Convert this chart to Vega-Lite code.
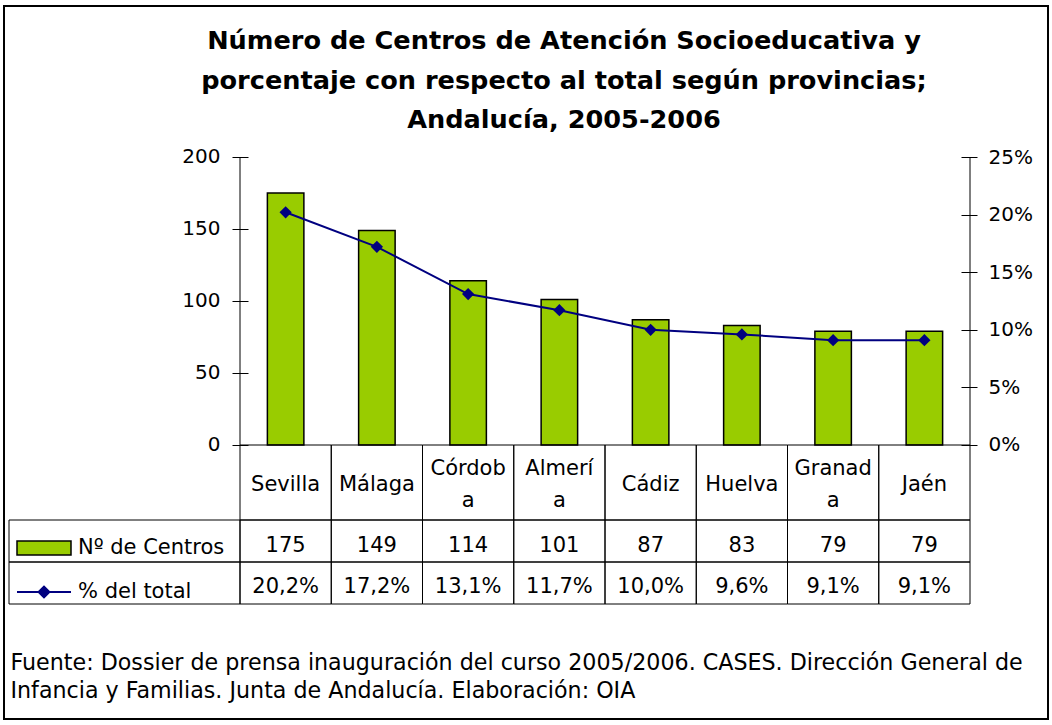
{
  "$schema": "https://vega.github.io/schema/vega-lite/v6.json",
  "width": 1044,
  "height": 713,
  "autosize": {"type": "none"},
  "padding": {"left": 4, "top": 6, "right": 4, "bottom": 6},
  "background": "white",
  "config": {
    "font": "DejaVu Sans",
    "view": {"stroke": "black", "strokeWidth": 2},
    "locale": {"number": {"decimal": ",", "thousands": ".", "grouping": [3], "currency": ["", " €"]}},
    "axis": {"labelColor": "black", "tickColor": "black", "domainColor": "black", "labelFont": "DejaVu Sans"}
  },
  "title": {
    "text": ["Número de Centros de Atención Socioeducativa  y", "porcentaje con respecto al total según provincias;", "Andalucía, 2005-2006"],
    "font": "DejaVu Sans",
    "fontSize": 25.6,
    "fontWeight": "bold",
    "lineHeight": 39.5,
    "color": "black",
    "anchor": "middle",
    "offset": -128,
    "dx": 38
  },
  "data": {
    "values": [
      {"provincia": "Sevilla", "rotulo": "Sevilla", "centros": 175, "porcentaje": 0.202},
      {"provincia": "Málaga", "rotulo": "Málaga", "centros": 149, "porcentaje": 0.172},
      {"provincia": "Córdoba", "rotulo": "Córdob\na", "centros": 114, "porcentaje": 0.131},
      {"provincia": "Almería", "rotulo": "Almerí\na", "centros": 101, "porcentaje": 0.117},
      {"provincia": "Cádiz", "rotulo": "Cádiz", "centros": 87, "porcentaje": 0.100},
      {"provincia": "Huelva", "rotulo": "Huelva", "centros": 83, "porcentaje": 0.096},
      {"provincia": "Granada", "rotulo": "Granad\na", "centros": 79, "porcentaje": 0.091},
      {"provincia": "Jaén", "rotulo": "Jaén", "centros": 79, "porcentaje": 0.091}
    ]
  },
  "layer": [
    {
      "layer": [
        {
          "layer": [
            {
              "mark": {"type": "bar", "stroke": "black", "strokeWidth": 1.5, "width": {"band": 0.4}},
              "encoding": {
                "x": {"field": "provincia", "type": "nominal", "axis": null,
                  "scale": {"type": "band", "domain": ["Sevilla", "Málaga", "Córdoba", "Almería", "Cádiz", "Huelva", "Granada", "Jaén"], "paddingInner": 0, "paddingOuter": 0, "range": [236, 966]}},
                "y": {"field": "centros", "type": "quantitative",
                  "scale": {"domain": [-190.28, 304.86], "nice": false, "zero": false},
                  "axis": {"orient": "left", "values": [0, 50, 100, 150, 200], "offset": -244, "tickSize": 16, "domain": false, "grid": false, "labelPadding": 12, "labelFontSize": 20, "title": null}},
                "fill": {"datum": "Nº de Centros", "type": "nominal", "scale": {"range": ["#99CC00"]},
                  "legend": {"orient": "none", "legendX": 12, "legendY": 514, "title": null, "padding": 0,
                    "symbolType": "M-1,-0.26H1V0.26H-1Z", "symbolSize": 2916, "symbolStrokeColor": "black", "symbolStrokeWidth": 1.5,
                    "labelFontSize": 21, "labelFont": "DejaVu Sans", "labelColor": "black", "labelOffset": 6}}
              }
            },
            {
              "data": {"values": [{}]},
              "mark": {"type": "rule", "color": "black", "strokeWidth": 1},
              "encoding": {
                "x": {"datum": "Sevilla", "type": "nominal", "bandPosition": 0, "axis": null},
                "y": {"datum": 0, "type": "quantitative"},
                "y2": {"datum": 200}
              }
            },
            {
              "data": {"values": [{}]},
              "mark": {"type": "rule", "color": "black", "strokeWidth": 1},
              "encoding": {
                "x": {"datum": "Jaén", "type": "nominal", "bandPosition": 1, "axis": null},
                "y": {"datum": 0, "type": "quantitative"},
                "y2": {"datum": 200}
              }
            }
          ]
        },
        {
          "layer": [
            {
              "mark": {"type": "line", "strokeWidth": 2},
              "encoding": {
                "x": {"field": "provincia", "type": "nominal", "axis": null},
                "y": {"field": "porcentaje", "type": "quantitative",
                  "scale": {"domain": [-0.23785, 0.38108], "nice": false, "zero": false},
                  "axis": {"orient": "right", "values": [0, 0.05, 0.1, 0.15, 0.2, 0.25], "format": ".0%", "offset": -87, "tickSize": 16, "domain": false, "grid": false, "labelPadding": 11, "labelFontSize": 20, "title": null}},
                "stroke": {"datum": "% del total", "type": "nominal", "scale": {"range": ["#000080"]},
                  "legend": {"orient": "none", "legendX": 12, "legendY": 558, "title": null, "padding": 0,
                    "symbolType": "M-1,0H1M-0.2,0L0,-0.2L0.2,0L0,0.2Z", "symbolSize": 2916, "symbolStrokeWidth": 2, "symbolFillColor": "#000080",
                    "labelFontSize": 21, "labelFont": "DejaVu Sans", "labelColor": "black", "labelOffset": 6,
                    "encode": {"symbols": {"update": {"fill": {"value": "#000080"}, "stroke": {"value": "#000080"}}}}}}
              }
            },
            {
              "mark": {"type": "point", "shape": "diamond", "filled": true, "size": 150, "color": "#000080", "opacity": 1},
              "encoding": {
                "x": {"field": "provincia", "type": "nominal", "axis": null},
                "y": {"field": "porcentaje", "type": "quantitative"}
              }
            }
          ]
        },
        {
          "layer": [
            {
              "mark": {"type": "rect", "filled": false, "color": "black", "strokeWidth": 1},
              "encoding": {
                "x": {"field": "provincia", "type": "nominal", "axis": null},
                "y": {"datum": "Provincia", "type": "nominal", "axis": null,
                  "scale": {"type": "band", "domain": ["Provincia"], "paddingInner": 0, "paddingOuter": 0, "range": [439, 514]}}
              }
            },
            {
              "transform": [{"filter": "indexof(datum.rotulo, '\\n') < 0"}],
              "mark": {"type": "text", "fontSize": 21, "color": "black", "baseline": "middle", "dy": 2},
              "encoding": {
                "x": {"field": "provincia", "type": "nominal", "axis": null},
                "y": {"datum": "Provincia", "type": "nominal", "axis": null},
                "text": {"field": "rotulo"}
              }
            },
            {
              "transform": [{"filter": "indexof(datum.rotulo, '\\n') >= 0"}],
              "mark": {"type": "text", "fontSize": 21, "color": "black", "lineBreak": "\n", "lineHeight": 32, "baseline": "middle", "dy": -14},
              "encoding": {
                "x": {"field": "provincia", "type": "nominal", "axis": null},
                "y": {"datum": "Provincia", "type": "nominal", "axis": null},
                "text": {"field": "rotulo"}
              }
            }
          ]
        },
        {
          "layer": [
            {
              "mark": {"type": "rect", "filled": false, "color": "black", "strokeWidth": 1},
              "encoding": {
                "x": {"field": "provincia", "type": "nominal", "axis": null},
                "y": {"datum": "Nº de Centros", "type": "nominal", "axis": null,
                  "scale": {"type": "band", "domain": ["Nº de Centros", "% del total"], "paddingInner": 0, "paddingOuter": 0, "range": [514, 598]}}
              }
            },
            {
              "mark": {"type": "rect", "filled": false, "color": "black", "strokeWidth": 1},
              "encoding": {
                "x": {"field": "provincia", "type": "nominal", "axis": null},
                "y": {"datum": "% del total", "type": "nominal", "axis": null}
              }
            },
            {
              "mark": {"type": "text", "fontSize": 21, "color": "black", "baseline": "middle", "dy": 5},
              "encoding": {
                "x": {"field": "provincia", "type": "nominal", "axis": null},
                "y": {"datum": "Nº de Centros", "type": "nominal", "axis": null},
                "text": {"field": "centros", "type": "quantitative"}
              }
            },
            {
              "mark": {"type": "text", "fontSize": 21, "color": "black", "baseline": "middle", "dy": 4},
              "encoding": {
                "x": {"field": "provincia", "type": "nominal", "axis": null},
                "y": {"datum": "% del total", "type": "nominal", "axis": null},
                "text": {"field": "porcentaje", "type": "quantitative", "format": ".1%"}
              }
            }
          ]
        }
      ],
      "resolve": {"scale": {"y": "independent"}}
    },
    {
      "data": {"values": [{"serie": "Nº de Centros"}, {"serie": "% del total"}]},
      "mark": {"type": "rect", "filled": false, "color": "black", "strokeWidth": 1},
      "encoding": {
        "x": {"datum": "leyenda", "type": "nominal",
          "scale": {"type": "band", "domain": ["leyenda"], "paddingInner": 0, "paddingOuter": 0, "range": [5, 236]},
          "axis": {"orient": "bottom", "labels": false, "ticks": false, "domain": false, "grid": false,
            "title": ["Fuente: Dossier de prensa inauguración del curso 2005/2006. CASES. Dirección General de", "Infancia y Familias. Junta de Andalucía. Elaboración: OIA"],
            "titleFont": "DejaVu Sans", "titleFontSize": 22.2, "titleFontWeight": "normal", "titleColor": "black",
            "titleAnchor": "start", "titleAlign": "left", "titleBaseline": "alphabetic", "titleLineHeight": 28,
            "titleX": 6, "titleY": -50}},
        "y": {"field": "serie", "type": "nominal", "axis": null,
          "scale": {"type": "band", "domain": ["Nº de Centros", "% del total"], "paddingInner": 0, "paddingOuter": 0, "range": [514, 598]}}
      }
    }
  ],
  "resolve": {"scale": {"x": "independent", "y": "independent"}}
}
